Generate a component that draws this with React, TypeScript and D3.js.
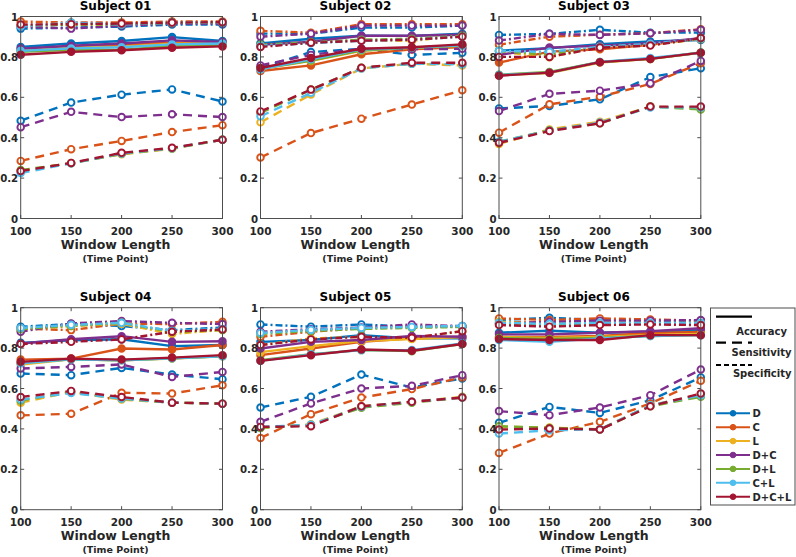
import React from "react";
import * as d3 from "d3";

const windowLengths = [100, 150, 200, 250, 300];
const yTicks = [0, 0.2, 0.4, 0.6, 0.8, 1];
const combos = ["D", "C", "L", "D+C", "D+L", "C+L", "D+C+L"];
const comboColors = ["#0072BD", "#D95319", "#EDB120", "#7E2F8E", "#77AC30", "#4DBEEE", "#A2142F"];
const subjects = ["Subject 01", "Subject 02", "Subject 03", "Subject 04", "Subject 05", "Subject 06"];
const metricNames = ["Accuracy", "Sensitivity", "Specificity"];

// rows: D, C, L, D+C, D+L, C+L, D+C+L ; columns: window lengths
const s01Accuracy = [
  [0.849, 0.866, 0.879, 0.898, 0.879],
  [0.835, 0.85, 0.86, 0.872, 0.87],
  [0.83, 0.845, 0.85, 0.865, 0.868],
  [0.841, 0.855, 0.866, 0.882, 0.874],
  [0.825, 0.835, 0.835, 0.855, 0.86],
  [0.83, 0.842, 0.848, 0.862, 0.866],
  [0.811, 0.825, 0.833, 0.845, 0.852],
];
const s01Sensitivity = [
  [0.484, 0.574, 0.613, 0.639, 0.579],
  [0.285, 0.343, 0.384, 0.428, 0.462],
  [0.235, 0.275, 0.318, 0.345, 0.39],
  [0.452, 0.528, 0.502, 0.516, 0.502],
  [0.24, 0.273, 0.32, 0.347, 0.39],
  [0.225, 0.273, 0.322, 0.348, 0.39],
  [0.235, 0.275, 0.325, 0.35, 0.39],
];
const s01Specificity = [
  [0.94, 0.945, 0.95, 0.96, 0.96],
  [0.975, 0.97, 0.97, 0.975, 0.975],
  [0.955, 0.96, 0.96, 0.97, 0.97],
  [0.95, 0.94, 0.955, 0.965, 0.965],
  [0.955, 0.96, 0.962, 0.968, 0.97],
  [0.95, 0.97, 0.96, 0.97, 0.97],
  [0.96, 0.962, 0.965, 0.97, 0.972],
];

const s02Accuracy = [
  [0.867, 0.89, 0.905, 0.904, 0.915],
  [0.73, 0.758, 0.813, 0.837, 0.849],
  [0.74, 0.78, 0.83, 0.845, 0.855],
  [0.86, 0.875, 0.905, 0.905, 0.91],
  [0.742, 0.782, 0.832, 0.846, 0.856],
  [0.738, 0.788, 0.837, 0.846, 0.857],
  [0.745, 0.795, 0.84, 0.848, 0.862],
];
const s02Sensitivity = [
  [0.746, 0.824, 0.84, 0.81, 0.82],
  [0.302, 0.423, 0.494, 0.564, 0.635],
  [0.476, 0.614, 0.743, 0.766, 0.758],
  [0.758, 0.81, 0.84, 0.838, 0.84],
  [0.522, 0.638, 0.746, 0.766, 0.766],
  [0.506, 0.622, 0.743, 0.766, 0.763],
  [0.53, 0.638, 0.746, 0.771, 0.771],
];
const s02Specificity = [
  [0.915, 0.915, 0.945, 0.945, 0.955],
  [0.929, 0.92, 0.962, 0.962, 0.962],
  [0.857, 0.87, 0.884, 0.879, 0.907],
  [0.9, 0.915, 0.955, 0.955, 0.955],
  [0.86, 0.872, 0.885, 0.89, 0.905],
  [0.855, 0.868, 0.88, 0.885, 0.9],
  [0.849, 0.87, 0.88, 0.885, 0.9],
];

const s03Accuracy = [
  [0.831, 0.843, 0.863, 0.876, 0.884],
  [0.772, 0.826, 0.838, 0.86, 0.893],
  [0.71, 0.72, 0.772, 0.79, 0.82],
  [0.81, 0.846, 0.855, 0.868, 0.893],
  [0.712, 0.725, 0.775, 0.79, 0.822],
  [0.71, 0.722, 0.775, 0.795, 0.82],
  [0.707, 0.722, 0.774, 0.79, 0.821],
];
const s03Sensitivity = [
  [0.545, 0.557, 0.59, 0.7, 0.744],
  [0.425, 0.565, 0.603, 0.666, 0.769],
  [0.369, 0.441, 0.479, 0.554, 0.545],
  [0.532, 0.617, 0.633, 0.669, 0.78],
  [0.38, 0.437, 0.471, 0.554, 0.54],
  [0.38, 0.435, 0.475, 0.55, 0.55],
  [0.375, 0.433, 0.471, 0.554, 0.554],
];
const s03Specificity = [
  [0.909, 0.914, 0.934, 0.92, 0.92],
  [0.86, 0.9, 0.91, 0.917, 0.937],
  [0.826, 0.798, 0.851, 0.86, 0.888],
  [0.881, 0.914, 0.909, 0.917, 0.934],
  [0.83, 0.81, 0.85, 0.86, 0.89],
  [0.83, 0.825, 0.85, 0.865, 0.89],
  [0.8, 0.8, 0.846, 0.856, 0.893],
];

const s04Accuracy = [
  [0.826, 0.839, 0.844, 0.81, 0.815],
  [0.743, 0.748, 0.798, 0.793, 0.815],
  [0.719, 0.745, 0.74, 0.748, 0.76],
  [0.823, 0.844, 0.859, 0.831, 0.834],
  [0.727, 0.745, 0.74, 0.75, 0.76],
  [0.725, 0.745, 0.74, 0.75, 0.76],
  [0.732, 0.748, 0.743, 0.753, 0.765],
];
const s04Sensitivity = [
  [0.674, 0.666, 0.702, 0.669, 0.646],
  [0.467, 0.475, 0.579, 0.575, 0.616],
  [0.53, 0.583, 0.545, 0.53, 0.525],
  [0.699, 0.707, 0.719, 0.657, 0.682],
  [0.54, 0.585, 0.55, 0.53, 0.525],
  [0.545, 0.578, 0.55, 0.53, 0.525],
  [0.558, 0.588, 0.558, 0.53, 0.525],
];
const s04Specificity = [
  [0.906, 0.919, 0.909, 0.889, 0.902],
  [0.897, 0.889, 0.922, 0.919, 0.93],
  [0.89, 0.91, 0.92, 0.87, 0.89],
  [0.881, 0.922, 0.934, 0.925, 0.919],
  [0.895, 0.91, 0.925, 0.88, 0.89],
  [0.9, 0.915, 0.925, 0.885, 0.895],
  [0.82, 0.831, 0.843, 0.881, 0.892],
];

const s05Accuracy = [
  [0.831, 0.84, 0.864, 0.848, 0.848],
  [0.765, 0.798, 0.831, 0.848, 0.856],
  [0.78, 0.81, 0.835, 0.845, 0.855],
  [0.798, 0.831, 0.84, 0.86, 0.856],
  [0.74, 0.77, 0.79, 0.785, 0.82],
  [0.737, 0.769, 0.79, 0.79, 0.823],
  [0.737, 0.765, 0.793, 0.787, 0.82],
];
const s05Sensitivity = [
  [0.506, 0.559, 0.669, 0.605, 0.65],
  [0.355, 0.473, 0.555, 0.597, 0.655],
  [0.405, 0.423, 0.512, 0.534, 0.559],
  [0.435, 0.526, 0.6, 0.613, 0.666],
  [0.405, 0.42, 0.505, 0.53, 0.555],
  [0.41, 0.42, 0.51, 0.535, 0.555],
  [0.41, 0.413, 0.512, 0.534, 0.555],
];
const s05Specificity = [
  [0.917, 0.906, 0.917, 0.906, 0.906],
  [0.856, 0.881, 0.898, 0.906, 0.909],
  [0.815, 0.848, 0.856, 0.848, 0.884],
  [0.881, 0.893, 0.902, 0.917, 0.909],
  [0.87, 0.885, 0.895, 0.9, 0.905],
  [0.875, 0.89, 0.9, 0.905, 0.91],
  [0.815, 0.843, 0.856, 0.851, 0.884],
];

const s06Accuracy = [
  [0.876, 0.886, 0.876, 0.881, 0.889],
  [0.855, 0.855, 0.86, 0.875, 0.88],
  [0.855, 0.85, 0.855, 0.865, 0.87],
  [0.868, 0.868, 0.876, 0.884, 0.898],
  [0.85, 0.845, 0.85, 0.86, 0.865],
  [0.84, 0.831, 0.848, 0.86, 0.864],
  [0.845, 0.84, 0.84, 0.864, 0.864],
];
const s06Sensitivity = [
  [0.43, 0.509, 0.479, 0.542, 0.655],
  [0.281, 0.377, 0.435, 0.526, 0.638],
  [0.41, 0.407, 0.398, 0.517, 0.57],
  [0.488, 0.468, 0.506, 0.567, 0.694],
  [0.413, 0.405, 0.397, 0.512, 0.559],
  [0.377, 0.393, 0.398, 0.517, 0.567],
  [0.397, 0.402, 0.397, 0.512, 0.575],
];
const s06Specificity = [
  [0.939, 0.95, 0.939, 0.93, 0.936],
  [0.947, 0.939, 0.947, 0.942, 0.936],
  [0.93, 0.925, 0.93, 0.925, 0.925],
  [0.922, 0.93, 0.936, 0.936, 0.939],
  [0.92, 0.915, 0.92, 0.92, 0.92],
  [0.925, 0.92, 0.925, 0.925, 0.925],
  [0.914, 0.906, 0.914, 0.917, 0.914],
];

const subjectData = [
  [s01Accuracy, s01Sensitivity, s01Specificity],
  [s02Accuracy, s02Sensitivity, s02Specificity],
  [s03Accuracy, s03Sensitivity, s03Specificity],
  [s04Accuracy, s04Sensitivity, s04Specificity],
  [s05Accuracy, s05Sensitivity, s05Specificity],
  [s06Accuracy, s06Sensitivity, s06Specificity],
];

const W = 796;
const H = 557;
const colX = [20.7, 260.5, 499];
const rowY = [16.5, 307.7];
const plotW = 201.8;
const plotH = 202;
const FONT = "'DejaVu Sans', sans-serif";
const TEXT = "#262626";
const AXIS = "#4d4d4d";
const dashes = [null, "9,6", "7,3,2,3"];

function Panel({ idx }: { idx: number }) {
  const x0 = colX[idx % 3];
  const y0 = rowY[Math.floor(idx / 3)];
  const x = d3.scaleLinear().domain([100, 300]).range([x0, x0 + plotW]);
  const y = d3.scaleLinear().domain([0, 1]).range([y0 + plotH, y0]);
  const line = d3
    .line<number>()
    .x((_, i) => x(windowLengths[i]))
    .y((v) => y(v));
  const data = subjectData[idx];
  const elems: React.ReactNode[] = [];
  combos.forEach((c, ci) => {
    data.forEach((metric, mi) => {
      const vals = metric[ci];
      elems.push(
        <path
          key={`l${ci}-${mi}`}
          d={line(vals) || ""}
          fill="none"
          stroke={comboColors[ci]}
          strokeWidth={2.4}
          strokeDasharray={dashes[mi] || undefined}
        />
      );
      vals.forEach((v, i) => {
        elems.push(
          <circle
            key={`m${ci}-${mi}-${i}`}
            cx={x(windowLengths[i])}
            cy={y(v)}
            r={3.3}
            fill={mi === 0 ? comboColors[ci] : "#ffffff"}
            stroke={comboColors[ci]}
            strokeWidth={1.9}
          />
        );
      });
    });
  });
  const cx = x0 + plotW / 2;
  const yb = y0 + plotH;
  return (
    <g>
      <rect x={x0} y={y0} width={plotW} height={plotH} fill="#fff" />
      {elems}
      <rect x={x0} y={y0} width={plotW} height={plotH} fill="none" stroke={AXIS} strokeWidth={1} />
      {yTicks.map((t) => (
        <g key={`yt${t}`}>
          <line x1={x0} x2={x0 + 3.5} y1={y(t)} y2={y(t)} stroke={AXIS} />
          <line x1={x0 + plotW - 3.5} x2={x0 + plotW} y1={y(t)} y2={y(t)} stroke={AXIS} />
          <text x={x0 - 2.5} y={y(t) + 4} textAnchor="end" fontSize={10.2} fontWeight="bold" fill={TEXT} fontFamily={FONT}>
            {d3.format("~g")(t)}
          </text>
        </g>
      ))}
      {windowLengths.map((t) => (
        <g key={`xt${t}`}>
          <line x1={x(t)} x2={x(t)} y1={yb} y2={yb - 3.5} stroke={AXIS} />
          <line x1={x(t)} x2={x(t)} y1={y0} y2={y0 + 3.5} stroke={AXIS} />
          <text x={x(t)} y={yb + 16.5} textAnchor="middle" fontSize={10.5} fontWeight="bold" fill={TEXT} fontFamily={FONT}>
            {t}
          </text>
        </g>
      ))}
      <text x={cx - 6} y={y0 - 6.5} textAnchor="middle" fontSize={12} fontWeight="bold" fill="#000" fontFamily={FONT}>
        {subjects[idx]}
      </text>
      <text x={cx - 6} y={yb + 30} textAnchor="middle" fontSize={12.5} fontWeight="bold" fill={TEXT} fontFamily={FONT}>
        Window Length
      </text>
      <text x={cx - 6} y={yb + 43} textAnchor="middle" fontSize={9.5} fontWeight="bold" fill={TEXT} fontFamily={FONT}>
        (Time Point)
      </text>
    </g>
  );
}

function Legend() {
  const lx = 710.5;
  const ly = 308;
  const metricY = [316.7, 342.7, 365];
  const metricTextY = [335, 355.5, 376.5];
  const legendDash = [null, "10,6", "5,3"];
  return (
    <g>
      <rect x={lx} y={ly} width={84.5} height={197} fill="#fff" stroke={AXIS} strokeWidth={1} />
      {metricNames.map((m, i) => (
        <g key={m}>
          <line x1={716} x2={752} y1={metricY[i]} y2={metricY[i]} stroke="#000" strokeWidth={2.2} strokeDasharray={legendDash[i] || undefined} />
          <text x={i === 0 ? 787 : 791.5} y={metricTextY[i]} textAnchor="end" fontSize={10} fontWeight="bold" fill={TEXT} fontFamily={FONT}>
            {m}
          </text>
        </g>
      ))}
      {combos.map((c, i) => {
        const yy = 413.3 + i * 13.9;
        return (
          <g key={c}>
            <line x1={716} x2={750} y1={yy} y2={yy} stroke={comboColors[i]} strokeWidth={2} />
            <circle cx={733} cy={yy} r={2.8} fill={comboColors[i]} stroke={comboColors[i]} />
            <text x={752.5} y={yy + 3.8} fontSize={10} fontWeight="bold" fill={TEXT} fontFamily={FONT}>
              {c}
            </text>
          </g>
        );
      })}
    </g>
  );
}

export default function App() {
  return (
    <svg width={W} height={H} style={{ position: "absolute", left: 0, top: 0, background: "#fff" }}>
      <rect x={0} y={0} width={W} height={H} fill="#fff" />
      {subjects.map((s, i) => (
        <Panel key={s} idx={i} />
      ))}
      <Legend />
    </svg>
  );
}
